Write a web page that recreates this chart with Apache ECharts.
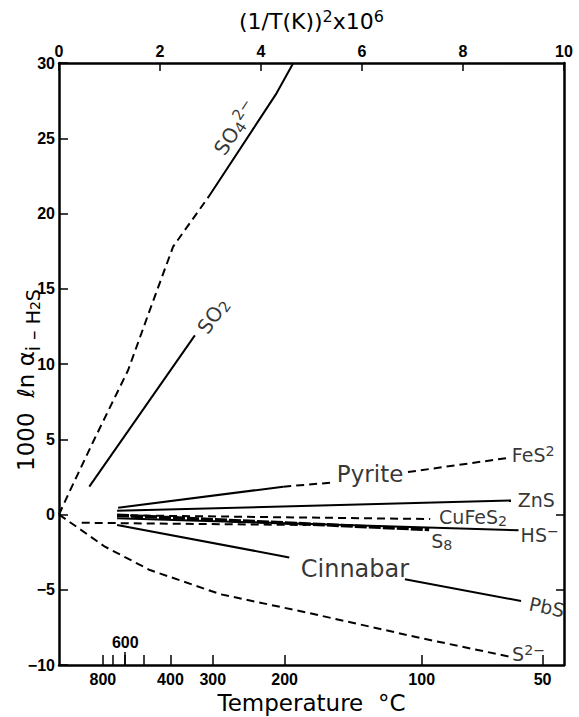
<!DOCTYPE html>
<html>
<head>
<meta charset="utf-8">
<script src="https://cdn.jsdelivr.net/npm/echarts@6/dist/echarts.min.js"></script>
<style>
  html, body { margin: 0; padding: 0; background: #fff; }
  #chart { width: 579px; height: 717px; }
</style>
</head>
<body>
<div id="chart"></div>
<script>
// ─── data: x = (1/T)^2 x 1e6, y = 1000 ln alpha ───
const so4Dashed = [[0, 0], [0.22, 1.6], [0.7, 5.0], [1.37, 9.6], [1.80, 13.6], [2.26, 17.8], [2.96, 21.1]];
const so4Solid = [[2.96, 21.1], [4.31, 28.0], [4.64, 30]];
const so2 = [[0.6, 1.85], [2.69, 11.9]];
const pyriteSolid = [[1.17, 0.45], [4.44, 1.85]];
const pyriteDash1 = [[4.44, 1.85], [5.37, 2.11]];
const pyriteDash2 = [[6.91, 2.82], [8.87, 3.75]];
const zns = [[1.15, 0.25], [8.95, 0.93]];
const cufes2 = [[1.15, -0.05], [7.35, -0.3]];
const s8 = [[1.15, -0.05], [7.33, -1.0]];
const hs = [[1.15, -0.25], [9.1, -1.05]];
const lowDash = [[0.45, -0.55], [4.9, -0.7]];
const cinnabar = [[1.15, -0.7], [4.56, -2.85]];
const pbs = [[6.85, -4.3], [9.15, -5.75]];
const s2 = [[0, 0], [0.91, -2.14], [1.8, -3.69], [3.2, -5.3], [4.97, -6.56], [7.15, -8.2], [8.93, -9.45]];

// bottom temperature scale (°C)
const tempTicks = [800, 700, 600, 500, 400, 300, 200, 100, 50];
const tempLabels = [800, 400, 300, 200, 100, 50];
const tempInside = [600];

// annotations: text, anchor [x, y], rotation, font size
const notes = [
  ['{m|SO}{u|4}{p|2−}', [3.49, 25.7], 57, 20],
  ['{m|SO}{u|2}', [3.05, 13.2], 55, 20],
  ['Pyrite', [6.16, 2.72], 0, 23],
  ['{m|FeS}{p|2}', [9.39, 3.95], 0, 19],
  ['ZnS', [9.45, 0.96], 0, 19],
  ['{m|CuFeS}{u|2}', [8.2, -0.15], 0, 19],
  ['{m|HS}{p|−}', [9.52, -1.36], 0, 19],
  ['{m|S}{u|8}', [7.58, -1.76], 0, 19],
  ['Cinnabar', [5.86, -3.62], 0, 24],
  ['PbS', [9.66, -6.15], -12, 19],
  ['{m|S}{p|2−}', [9.3, -9.3], 0, 19]
];

const toX = t => 1e6 / Math.pow(t + 273.15, 2);
const toT = x => Math.round(1000 / Math.sqrt(x) - 273.15);

const INK = '#000';
const FONT = 'Liberation Sans';
const TEXT = 'DejaVu Sans';
const DASH = [8, 5];

function line(data, dashed, width) {
  return {
    type: 'line', data: data, xAxisIndex: 0, yAxisIndex: 0,
    symbol: 'none', silent: true, animation: false,
    lineStyle: { color: INK, width: width || 2, type: dashed ? (Array.isArray(dashed) ? dashed : DASH) : 'solid' }
  };
}

function noteRich(size) {
  return {
    m: { fontFamily: TEXT, fontSize: size, color: INK },
    u: { fontFamily: TEXT, fontSize: size * 0.75, color: INK, padding: [size * 0.45, 0, 0, 0] },
    p: { fontFamily: TEXT, fontSize: size * 0.75, color: INK, padding: [0, 0, size * 0.45, 0] }
  };
}

const chart = echarts.init(document.getElementById('chart'), null, { renderer: 'svg' });

chart.setOption({
  animation: false,
  grid: { left: 59, right: 15, top: 63, bottom: 52, containLabel: false, outerBoundsMode: 'none' },
  // y-axis title drawn as a rotated text so the subscript sits right
  graphic: [{
    type: 'text', x: 28, y: 380, rotation: Math.PI / 2, silent: true,
    style: {
      text: '{a|1000  ℓn α}{s|i – H}{t|2}{s|S}',
      align: 'center', verticalAlign: 'middle', fill: INK,
      rich: {
        a: { fontFamily: TEXT, fontSize: 23, fill: INK, lineHeight: 28, verticalAlign: 'top' },
        s: { fontFamily: TEXT, fontSize: 19, fill: INK, lineHeight: 28, verticalAlign: 'bottom' },
        t: { fontFamily: TEXT, fontSize: 14, fill: INK, lineHeight: 28, verticalAlign: 'bottom' }
      }
    }
  }],
  xAxis: [
    {
      type: 'value', position: 'top', min: 0, max: 10, interval: 2,
      name: '{a|(1/T(K))}{b|2}{a|x10}{b|6}', nameLocation: 'middle', nameGap: 29,
      nameTextStyle: {
        rich: {
          a: { fontFamily: TEXT, fontSize: 22, color: INK },
          b: { fontFamily: TEXT, fontSize: 16, color: INK, padding: [0, 0, 10, 0] }
        }
      },
      axisLine: { onZero: false, lineStyle: { color: INK, width: 2.5 } },
      axisTick: { inside: true, length: 8, lineStyle: { color: INK, width: 1.5 } },
      axisLabel: { margin: 4, fontFamily: FONT, fontWeight: 'bold', fontSize: 16, color: INK },
      splitLine: { show: false }
    },
    {
      type: 'value', position: 'bottom', min: 0, max: 10,
      name: 'Temperature  °C', nameLocation: 'middle', nameGap: 26,
      nameTextStyle: { fontFamily: TEXT, fontSize: 23, color: INK },
      axisLine: { onZero: false, lineStyle: { color: INK, width: 2.5 } },
      axisTick: { inside: true, length: 10, customValues: tempTicks.map(toX), lineStyle: { color: INK, width: 1.5 } },
      axisLabel: {
        margin: 6, fontFamily: FONT, fontWeight: 'bold', fontSize: 16, color: INK,
        customValues: tempLabels.map(toX), formatter: v => String(toT(v))
      },
      splitLine: { show: false }
    },
    {
      type: 'value', position: 'bottom', min: 0, max: 10,
      axisLine: { show: false, onZero: false },
      axisTick: { inside: true, length: 13, customValues: tempInside.map(toX), lineStyle: { color: INK, width: 1.5 } },
      axisLabel: {
        inside: true, margin: 15, fontFamily: FONT, fontWeight: 'bold', fontSize: 16, color: INK,
        customValues: tempInside.map(toX), formatter: v => String(toT(v))
      },
      splitLine: { show: false }
    }
  ],
  yAxis: [
    {
      type: 'value', min: -10, max: 30, interval: 5,
      axisLine: { onZero: false, lineStyle: { color: INK, width: 2.5 } },
      axisTick: { inside: true, length: 9, lineStyle: { color: INK, width: 1.5 } },
      axisLabel: {
        margin: 4, fontFamily: FONT, fontWeight: 'bold', fontSize: 16, color: INK,
        formatter: v => (v < 0 ? '−' + (-v) : String(v))
      },
      splitLine: { show: false }
    },
    {
      type: 'value', position: 'right', min: -10, max: 30, interval: 5,
      axisLine: { show: true, onZero: false, lineStyle: { color: INK, width: 2.5 } },
      axisTick: { show: true, inside: true, length: 8, customValues: [-5, 0], lineStyle: { color: INK, width: 1.5 } },
      axisLabel: { show: false },
      splitLine: { show: false }
    }
  ],
  series: [
    line(so4Dashed, true),
    line(so4Solid, false),
    line(so2, false),
    line(pyriteSolid, false),
    line(pyriteDash1, true),
    line(pyriteDash2, true),
    line(zns, false),
    line(cufes2, true),
    line(s8, [12, 2], 3.5),
    line(hs, false),
    line(lowDash, true),
    line(cinnabar, false),
    line(pbs, false),
    line(s2, true),
    {
      type: 'scatter', xAxisIndex: 0, yAxisIndex: 0, symbolSize: 0, silent: true,
      data: notes.map(n => ({
        value: n[1],
        label: {
          show: true, position: 'inside', formatter: n[0], rotate: n[2],
          fontFamily: TEXT, fontSize: n[3], color: INK, textBorderWidth: 0,
          rich: noteRich(n[3])
        }
      }))
    }
  ]
});
</script>
</body>
</html>
